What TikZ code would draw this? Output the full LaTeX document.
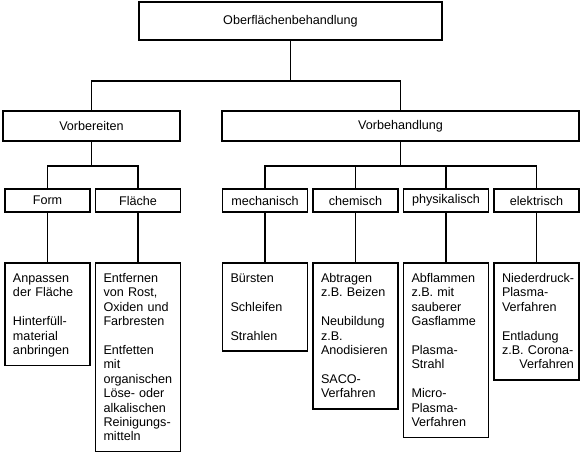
\documentclass[tikz,border=0pt]{standalone}
\usepackage{fontspec}
\setmainfont{Liberation Sans}
\tikzset{
  box/.style={draw,line width=1.8pt,inner sep=0pt,minimum width=85pt,minimum height=23pt,
    font=\fontsize{12.6}{14.4}\selectfont},
  listbox/.style={box,anchor=north,minimum height=0pt,text width=85pt,align=left,inner ysep=6.5pt,
    execute at begin node={\leftskip=8pt\rule{0pt}{13pt}},
    execute at end node={\rule[-4.5pt]{0pt}{4.5pt}}},
  link/.style={line width=1.5pt}
}
\begin{document}
\begin{tikzpicture}[x=1pt,y=-1pt]
        \useasboundingbox (0,0) rectangle (581,451);
        %% top levels
        \node[box,minimum width=303pt,minimum height=38pt] (ober) at (290.5,21) {Oberflächenbehandlung};
        \node[box,minimum width=177pt,minimum height=30pt] (vorber) at (91.5,126) {Vorbereiten};
        \node[box,minimum width=357pt,minimum height=30pt] (vorbeh) at (400.5,126) {Vorbehandlung};
        \draw[link] (ober.south) -- ++(0,40) -| (vorber.north);
        \draw[link] (ober.south) -- ++(0,40) -| (vorbeh.north);
        %% groups
        \foreach \n/\x/\t in {form/47.5/Form,flaeche/138/Fläche,mech/265/mechanisch,
                chem/355.5/chemisch,phys/446/physikalisch,elek/536.5/elektrisch}
            \node[box] (\n) at (\x,200.5) {\t};
        \foreach \n in {form,flaeche} \draw[link] (vorber.south) -- ++(0,24) -| (\n.north);
        \foreach \n in {mech,chem,phys,elek} \draw[link] (vorbeh.south) -- ++(0,24) -| (\n.north);
        %% methods
        \node[listbox] (anpassen) at (47.5,262) {Anpassen\\der Fläche\\[\baselineskip]Hinterfüll-\\material\\anbringen};
        \node[listbox] (entfernen) at (138,262) {Entfernen\\von Rost,\\Oxiden und\\Farbresten\\[\baselineskip]Entfetten\\mit\\organischen\\Löse- oder\\alkalischen\\Reinigungs-\\mitteln};
        \node[listbox] (buersten) at (265,262) {Bürsten\\[\baselineskip]Schleifen\\[\baselineskip]Strahlen};
        \node[listbox] (abtragen) at (355.5,262) {Abtragen\\z.B. Beizen\\[\baselineskip]Neubildung\\z.B.\\Anodisieren\\[\baselineskip]SACO-\\Verfahren};
        \node[listbox] (abflammen) at (446,262) {Abflammen\\z.B. mit\\sauberer\\Gasflamme\\[\baselineskip]Plasma-\\Strahl\\[\baselineskip]Micro-\\Plasma-\\Verfahren};
        \node[listbox] (niederdruck) at (536.5,262) {Niederdruck-\\Plasma-\\Verfahren\\[\baselineskip]Entladung\\z.B. Corona-\\\hspace*{0pt}\hfill Verfahren\hspace*{5pt}};
        \foreach \n/\m in {form/anpassen,flaeche/entfernen,mech/buersten,chem/abtragen,phys/abflammen,elek/niederdruck}
            \draw[link] (\n.south) -- (\m.north);
\end{tikzpicture}
\end{document}
